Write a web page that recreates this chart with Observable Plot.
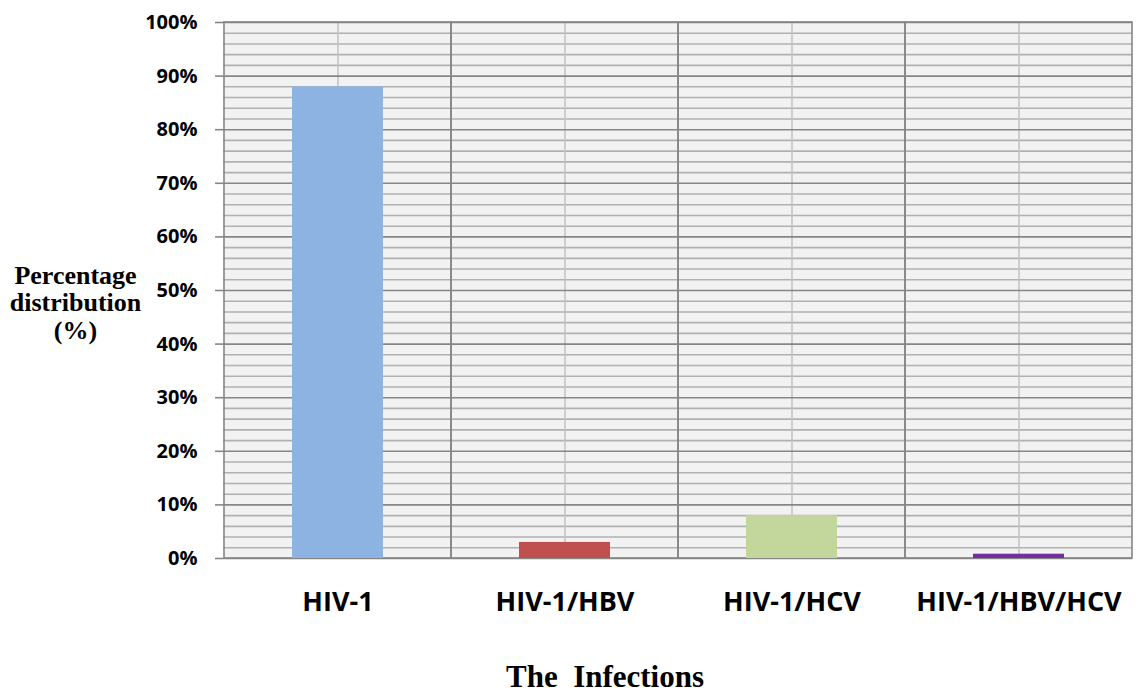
<!DOCTYPE html>
<html>
<head>
<meta charset="utf-8">
<script src="https://cdn.jsdelivr.net/npm/d3@7"></script>
<script src="https://cdn.jsdelivr.net/npm/@observablehq/plot@0.6"></script>
<style>
  html, body { margin: 0; padding: 0; background: #fff; }
  #chart svg { display: block; }
</style>
</head>
<body>
<div id="chart"></div>
<script>
const categories = ["HIV-1", "HIV-1/HBV", "HIV-1/HCV", "HIV-1/HBV/HCV"];
const values = [88, 3, 8, 0.8];
const colors = ["#8db3e2", "#c0504d", "#c3d69b", "#7030a0"];
const majorTicks = [0, 10, 20, 30, 40, 50, 60, 70, 80, 90, 100];
const minorTicks = [2, 4, 6, 8, 12, 14, 16, 18, 22, 24, 26, 28, 32, 34, 36, 38, 42, 44, 46, 48,
                    52, 54, 56, 58, 62, 64, 66, 68, 72, 74, 76, 78, 82, 84, 86, 88, 92, 94, 96, 98];
const yTitle = "Percentage\ndistribution\n(%)";
const xTitle = "The  Infections";

const data = categories.map((c, i) => ({category: c, value: values[i]}));

const chart = Plot.plot({
  width: 1137,
  height: 693,
  marginLeft: 223,
  marginRight: 5,
  marginTop: 22,
  marginBottom: 135,
  style: {background: "#ffffff", color: "#000", overflow: "visible"},
  x: {domain: categories, padding: 0, label: null, axis: null},
  y: {domain: [0, 100], label: null, axis: null},
  color: {domain: categories, range: colors},
  marks: [
    Plot.frame({fill: "#f2f2f2", stroke: null}),
    Plot.ruleY(minorTicks, {stroke: "#b0b0b0", strokeWidth: 1.6}),
    Plot.ruleX(categories, {stroke: "#c4c4c4", strokeWidth: 1.6}),
    Plot.ruleY(majorTicks, {stroke: "#868686", strokeWidth: 1.6}),
    Plot.barY(categories, {x: d => d, y1: 0, y2: 100, fill: "none", stroke: "#868686", strokeWidth: 1.6}),
    Plot.barY(data, {x: "category", y: "value", fill: "category", insetLeft: 68, insetRight: 68}),
    Plot.axisY(majorTicks, {
      tickFormat: d => d + "%", tickSize: 8, tickPadding: 18, stroke: "#868686", strokeWidth: 1.6,
      fontSize: 20, fontWeight: "bold", fontFamily: "Open Sans", fill: "#000", label: null
    }),
    Plot.axisX({
      tickSize: 0, tickPadding: 33, fontSize: 27, fontWeight: "bold", fontFamily: "Open Sans",
      fill: "#000", label: null
    }),
    Plot.text([yTitle], {
      frameAnchor: "left", dx: -148, dy: 12, text: d => d, textAnchor: "middle", lineAnchor: "middle",
      lineHeight: 1.07, fontSize: 26, fontWeight: "bold", fontFamily: "Liberation Serif", fill: "#000"
    }),
    Plot.text([xTitle], {
      frameAnchor: "bottom", dx: -73, dy: 119, text: d => d, textAnchor: "middle", lineAnchor: "middle",
      fontSize: 31, fontWeight: "bold", fontFamily: "Liberation Serif", fill: "#000"
    })
  ]
});
document.getElementById("chart").appendChild(chart);
</script>
</body>
</html>
